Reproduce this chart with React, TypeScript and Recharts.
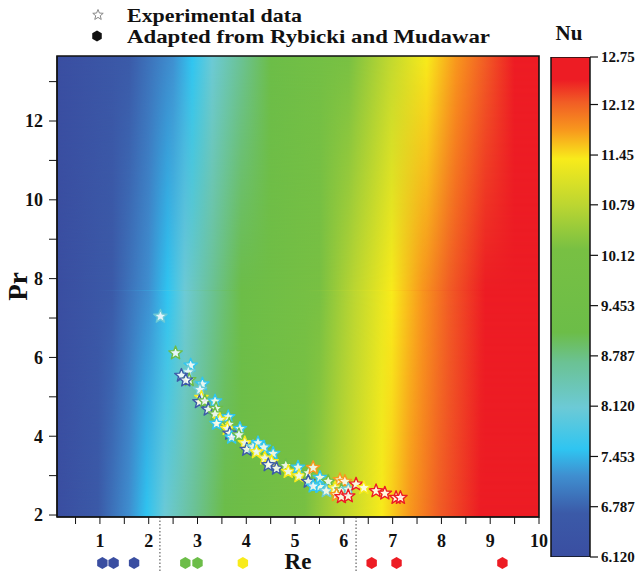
import React from "react";
import {
  ComposedChart,
  BarChart,
  Bar,
  XAxis,
  YAxis,
  Scatter,
  ReferenceArea,
  ReferenceLine,
  Label,
} from "recharts";

const FONT = '"Liberation Serif", "Times New Roman", serif';

// colour map of the contour plot (Nu -> colour)
const mapNu = [6.12, 6.7, 7.2, 7.55, 8.1, 8.7, 9.1, 10.2, 10.79, 11.4, 11.78, 12.15, 12.45, 12.75];
const mapColor = [
  "#3a4ea1", "#3b5aa8", "#3f8fd0", "#2fc5f1", "#6ccad6", "#6bc294", "#6cbd48",
  "#78c043", "#bcd631", "#f8eb1b", "#f8981d", "#f15d25", "#ed1c24", "#ed1c24",
];

// colour bar ticks
const nuTicks = [6.12, 6.787, 7.453, 8.12, 8.787, 9.453, 10.12, 10.79, 11.45, 12.12, 12.75];
const nuTickLabels = ["6.120", "6.787", "7.453", "8.120", "8.787", "9.453", "10.12", "10.79", "11.45", "12.12", "12.75"];

// Nu field: Re at which Nu reaches each mapNu level, read along three Pr rows
const fieldPr = [13.65, 7.7, 1.95];
const fieldRe = [
  [0.12, 1.6, 2.5, 2.89, 3.3, 3.9, 4.5, 6.1, 6.9, 7.7, 8.3, 8.9, 9.5, 10],
  [0.12, 1.25, 2.0, 2.39, 2.74, 3.3, 3.9, 5.5, 6.22, 6.98, 7.6, 8.15, 8.9, 10],
  [0.12, 0.96, 1.6, 1.96, 2.33, 2.95, 3.56, 5.2, 5.96, 6.78, 7.35, 7.95, 8.8, 10],
];

// axes
const reDomain = [0.12, 10];
const prDomain = [1.95, 13.65];
const reTicks = [0.5, 1, 1.5, 2, 2.5, 3, 3.5, 4, 4.5, 5, 5.5, 6, 6.5, 7, 7.5, 8, 8.5, 9, 9.5, 10];
const prTicks = [2, 3, 4, 5, 6, 7, 8, 9, 10, 11, 12, 13];

// experimental data (stars)
const starRe = [
  2.24, 2.55, 2.86, 2.81, 2.67, 2.83, 2.76, 3.1, 3.05, 3.08, 3.04, 3.15, 3.36, 3.22, 3.38, 3.36,
  3.63, 3.46, 3.39, 3.65, 3.61, 3.87, 3.66, 3.7, 3.85, 3.97, 4.01, 4.14, 4.24, 4.36, 4.21, 4.55,
  4.38, 4.52, 4.62, 4.45, 4.81, 4.86, 5.06, 5.08, 5.27, 5.37, 5.27, 5.51, 5.68, 5.51, 5.37, 5.64,
  5.92, 6.02, 5.82, 5.95, 6.09, 6.25, 6.41, 5.85, 5.95, 6.09, 6.66, 6.84, 7.07, 7.16,
];
const starPr = [
  7.04, 6.11, 5.8, 5.63, 5.54, 5.43, 5.42, 5.32, 5.18, 4.98, 4.87, 4.89, 4.89, 4.68, 4.7, 4.56,
  4.49, 4.42, 4.32, 4.3, 4.19, 4.19, 4.07, 3.97, 4.03, 3.83, 3.66, 3.73, 3.83, 3.72, 3.6, 3.56,
  3.44, 3.35, 3.18, 3.27, 3.25, 3.1, 3.21, 2.99, 3.07, 3.2, 2.85, 2.95, 2.85, 2.72, 2.73, 2.61,
  2.89, 2.85, 2.68, 2.63, 2.65, 2.78, 2.69, 2.51, 2.46, 2.48, 2.61, 2.55, 2.44, 2.44,
];
const starNu = [
  8.1, 9.5, 7.55, 8.1, 6.9, 9.5, 6.9, 7.55, 8.1, 11.4, 6.9, 9.5, 7.55, 6.9, 9.5, 9.5,
  7.55, 11.4, 7.55, 9.5, 11.4, 7.55, 6.9, 7.55, 9.5, 11.4, 6.9, 8.1, 7.55, 7.55, 11.4, 7.55,
  11.4, 11.4, 6.9, 6.9, 9.5, 11.4, 7.55, 11.4, 9.5, 11.9, 6.9, 7.55, 9.5, 7.55, 7.55, 8.1,
  11.9, 11.9, 11.4, 9.5, 8.1, 12.6, 11.4, 11.9, 12.6, 12.6, 12.6, 12.6, 12.6, 12.6,
];

// adapted from Rybicki and Mudawar (hexagons under the Re axis)
const hexRe = [1.05, 1.28, 1.7, 2.75, 3.0, 3.93, 6.57, 7.08, 9.25];
const hexNu = [6.2, 6.2, 6.2, 9.5, 9.5, 11.4, 12.7, 12.7, 12.7];
const sepRe = [2.23, 6.25];

const stars = starRe.map((re, i) => ({ re, pr: starPr[i], nu: starNu[i] }));
// hexagons sit on the Re axis line and are drawn in the strip below it
const hexes = hexRe.map((re, i) => ({ re, pr: prDomain[0], nu: hexNu[i] }));
const colorbar = [{ name: "Nu", range: [nuTicks[0], nuTicks[nuTicks.length - 1]] }];

function nuColor(nu: number) {
  let best = 0;
  mapNu.forEach((v, i) => {
    if (Math.abs(v - nu) < Math.abs(mapNu[best] - nu)) best = i;
  });
  return mapColor[best];
}

function starPoints(cx: number, cy: number, R: number, r: number) {
  const pts: string[] = [];
  for (let i = 0; i < 10; i++) {
    const a = (-90 + i * 36) * (Math.PI / 180);
    const rad = i % 2 === 0 ? R : r;
    pts.push(`${cx + rad * Math.cos(a)},${cy + rad * Math.sin(a)}`);
  }
  return pts.join(" ");
}

function hexPoints(cx: number, cy: number, R: number) {
  const pts: string[] = [];
  for (let i = 0; i < 6; i++) {
    const a = (-90 + i * 60) * (Math.PI / 180);
    pts.push(`${cx + R * Math.cos(a)},${cy + R * Math.sin(a)}`);
  }
  return pts.join(" ");
}

const StarShape = (props: any) => {
  const { cx, cy, payload } = props;
  if (cx == null || cy == null) return null;
  return (
    <polygon
      points={starPoints(cx, cy, 7, 3)}
      fill="#ffffff"
      fillOpacity={0.85}
      stroke={nuColor(payload.nu)}
      strokeWidth={1.4}
      strokeLinejoin="round"
    />
  );
};

const HexShape = (props: any) => {
  const { cx, cy, payload } = props;
  if (cx == null || cy == null) return null;
  return <polygon points={hexPoints(cx, cy + 46, 6)} fill={nuColor(payload.nu)} />;
};

const SepLine = (props: any) => {
  const yb = Math.max(props.y1, props.y2);
  return (
    <line x1={props.x1} x2={props.x1} y1={yb} y2={yb + 56} stroke="#444" strokeWidth={1} strokeDasharray="1.5 2" />
  );
};

const tickStyle = { fontFamily: FONT, fontWeight: 700, fontSize: 18, fill: "#111" };

export default function App() {
  const span = reDomain[1] - reDomain[0];
  const last = fieldPr.length - 2;
  const bands = fieldPr.slice(0, -1).map((top, r) => (
    <ReferenceArea
      key={r}
      x1={reDomain[0]}
      x2={reDomain[1]}
      y1={fieldPr[r + 1]}
      y2={top}
      ifOverflow="visible"
      shape={(p: any) => {
        // upper band runs a pixel into the next one so no gap shows between them
        const h = p.height + (r < last ? 1 : 0);
        return (
          <g>
            <rect x={p.x} y={p.y} width={p.width} height={h} fill={`url(#row-${r + 1})`} />
            <rect x={p.x} y={p.y} width={p.width} height={h} fill={`url(#row-${r})`} mask="url(#fadeDown)" />
          </g>
        );
      }}
    />
  ));

  return (
    <div style={{ position: "absolute", left: 0, top: 0, width: 641, height: 573, background: "#fff" }}>
      <svg width={641} height={52} style={{ position: "absolute", left: 0, top: 0 }}>
        <polygon points={starPoints(98, 15, 5.5, 2.4)} fill="#fff" stroke="#888" strokeWidth={1} />
        <text
          x={127}
          y={22}
          textLength={175}
          lengthAdjust="spacingAndGlyphs"
          fontFamily={FONT}
          fontWeight={700}
          fontSize={19}
          fill="#111"
        >
          Experimental data
        </text>
        <polygon points={hexPoints(97, 36, 5.5)} fill="#111" />
        <text
          x={127}
          y={43}
          textLength={363}
          lengthAdjust="spacingAndGlyphs"
          fontFamily={FONT}
          fontWeight={700}
          fontSize={19}
          fill="#111"
        >
          Adapted from Rybicki and Mudawar
        </text>
        <text x={569} y={40} textAnchor="middle" fontFamily={FONT} fontWeight={700} fontSize={21} fill="#111">
          Nu
        </text>
      </svg>

      <ComposedChart
        width={641}
        height={573}
        margin={{ top: 56, right: 102, bottom: 0, left: 0 }}
        style={{ position: "absolute", left: 0, top: 0 }}
      >
        <defs>
          {fieldRe.map((row, r) => (
            <linearGradient key={r} id={`row-${r}`} x1="0" y1="0" x2="1" y2="0">
              {row.map((re, k) => (
                <stop key={k} offset={(re - reDomain[0]) / span} stopColor={mapColor[k]} />
              ))}
            </linearGradient>
          ))}
          {/* mask rect overshoots the band so its edges stay fully opaque */}
          <linearGradient id="fadeGrad" x1="0" y1="0" x2="0" y2="1">
            <stop offset={0.1 / 1.2} stopColor="#fff" />
            <stop offset={1.1 / 1.2} stopColor="#000" />
          </linearGradient>
          <mask
            id="fadeDown"
            maskUnits="userSpaceOnUse"
            x="0"
            y="0"
            width="641"
            height="573"
            maskContentUnits="objectBoundingBox"
          >
            <rect x="-0.1" y="-0.1" width="1.2" height="1.2" fill="url(#fadeGrad)" />
          </mask>
        </defs>
        {bands}
        <ReferenceArea
          x1={reDomain[0]}
          x2={reDomain[1]}
          y1={prDomain[0]}
          y2={prDomain[1]}
          fill="none"
          stroke="#111"
          strokeWidth={1.6}
        />
        {sepRe.map((re) => (
          <ReferenceLine key={re} x={re} shape={SepLine} />
        ))}
        <XAxis
          type="number"
          dataKey="re"
          domain={reDomain}
          ticks={reTicks}
          interval={0}
          tickFormatter={(v: number) => (Number.isInteger(v) ? String(v) : "")}
          height={56}
          tickSize={7}
          tickMargin={10}
          stroke="#111"
          tick={tickStyle}
        >
          <Label
            value="Re"
            position="insideBottom"
            offset={4}
            style={{ fontFamily: FONT, fontWeight: 700, fontSize: 23, fill: "#111" }}
          />
        </XAxis>
        <YAxis
          type="number"
          dataKey="pr"
          domain={prDomain}
          ticks={prTicks}
          interval={0}
          tickFormatter={(v: number) => (v % 2 === 0 ? String(v) : "")}
          width={57}
          tickSize={8}
          tickMargin={6}
          stroke="#111"
          tick={tickStyle}
          label={{
            content: (p: any) => {
              const vb = p.viewBox;
              const cx = 18;
              const cy = vb.y + vb.height / 2;
              return (
                <text
                  x={cx}
                  y={cy}
                  transform={`rotate(-90 ${cx} ${cy})`}
                  textAnchor="middle"
                  dominantBaseline="central"
                  fontFamily={FONT}
                  fontWeight={700}
                  fontSize={27}
                  fill="#111"
                >
                  Pr
                </text>
              );
            },
          }}
        />
        <Scatter name="Adapted from Rybicki and Mudawar" data={hexes} shape={HexShape} isAnimationActive={false} />
        <Scatter name="Experimental data" data={stars} shape={StarShape} isAnimationActive={false} />
      </ComposedChart>

      <BarChart
        width={101}
        height={573}
        data={colorbar}
        margin={{ top: 57, right: 0, bottom: 16, left: 11 }}
        barCategoryGap={0}
        style={{ position: "absolute", left: 540, top: 0 }}
      >
        <defs>
          <linearGradient id="cbar" x1="0" y1="1" x2="0" y2="0">
            {mapNu.map((nu, k) => (
              <stop key={k} offset={(nu - mapNu[0]) / (mapNu[mapNu.length - 1] - mapNu[0])} stopColor={mapColor[k]} />
            ))}
          </linearGradient>
        </defs>
        <XAxis dataKey="name" hide />
        <YAxis
          type="number"
          orientation="right"
          domain={[6.12, 12.75]}
          allowDataOverflow
          ticks={nuTicks}
          interval={0}
          tickFormatter={(v: number) => nuTickLabels[nuTicks.indexOf(v)]}
          width={51}
          axisLine={false}
          tickSize={8}
          tickMargin={3}
          stroke="#111"
          tickLine={{ stroke: "#111", strokeWidth: 1.2 }}
          tick={{ fontFamily: FONT, fontWeight: 700, fontSize: 15, fill: "#111" }}
        />
        <Bar dataKey="range" fill="url(#cbar)" stroke="#111" strokeWidth={1.5} isAnimationActive={false} />
      </BarChart>
    </div>
  );
}
